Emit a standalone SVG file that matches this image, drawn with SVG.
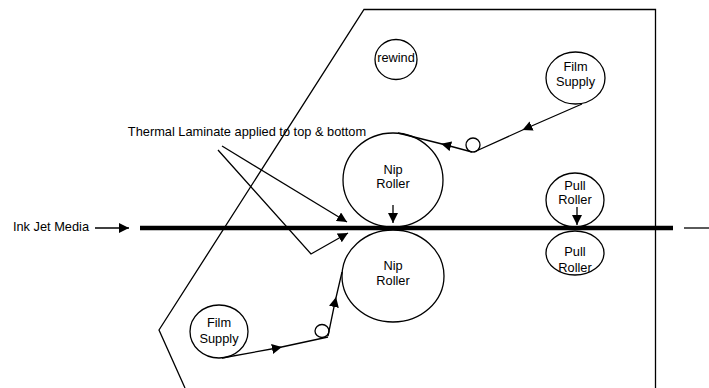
<svg xmlns="http://www.w3.org/2000/svg" width="709" height="388" viewBox="0 0 709 388">
<style>
.ln{fill:none;stroke:#000;stroke-width:1.3}
.nd{fill:none;stroke:#000;stroke-width:1.3}
text{font-family:"Liberation Sans",Arial,sans-serif;font-size:12.8px;fill:#000;text-anchor:middle}
</style>
<defs>
<marker id="ah" viewBox="0 0 10 10" refX="10" refY="5" markerWidth="10" markerHeight="10" markerUnits="userSpaceOnUse" orient="auto">
<path d="M0,0 L10,5 L0,10 z" fill="#000"/>
</marker>
<marker id="am" viewBox="0 0 10 10" refX="5" refY="5" markerWidth="10" markerHeight="10" markerUnits="userSpaceOnUse" orient="auto">
<path d="M0,0 L10,5 L0,10 z" fill="#000"/>
</marker>
</defs>
<g id="housing">
<path class="ln" d="M655.5,388 L655.5,9.5 L364,9.5 L159,330 L185,388"/>
</g>
<g id="nip-top"><ellipse class="nd" cx="393" cy="180" rx="50" ry="47"/><text x="393" y="174">Nip</text><text x="393" y="188">Roller</text></g>
<g id="nip-bottom"><ellipse class="nd" cx="393" cy="276" rx="51" ry="46"/><text x="393" y="270">Nip</text><text x="393" y="285">Roller</text></g>
<g id="rewind"><ellipse class="nd" cx="396" cy="59.5" rx="21" ry="20"/><text x="396" y="62">rewind</text></g>
<g id="film-supply-top"><ellipse class="nd" cx="575.5" cy="78" rx="29.5" ry="26"/><text x="575.5" y="71">Film</text><text x="575.5" y="86">Supply</text></g>
<g id="film-supply-bottom"><ellipse class="nd" cx="219" cy="331.5" rx="29" ry="26.5"/><text x="219" y="327">Film</text><text x="219" y="343">Supply</text></g>
<g id="idler-top"><ellipse class="nd" cx="473" cy="145" rx="7" ry="7"/></g>
<g id="idler-bottom"><ellipse class="nd" cx="322" cy="331" rx="7" ry="6.5"/></g>
<g id="pull-top"><ellipse class="nd" cx="575" cy="200" rx="29" ry="27"/><text x="575" y="190">Pull</text><text x="575" y="204">Roller</text></g>
<g id="pull-bottom"><ellipse class="nd" cx="575" cy="253" rx="29" ry="22"/><text x="575" y="256">Pull</text><text x="575" y="272">Roller</text></g>
<g id="label-media"><text x="51" y="231">Ink Jet Media</text></g>
<g id="label-laminate"><text x="247" y="136">Thermal Laminate applied to top &amp; bottom</text></g>
<g id="connectors">
<line x1="140" y1="228" x2="673" y2="228" stroke="#000" stroke-width="4.5"/>
<line class="ln" x1="684" y1="228" x2="709" y2="228"/>
<line class="ln" x1="95" y1="228" x2="129" y2="228" marker-end="url(#ah)"/>
<line class="ln" x1="393" y1="205" x2="393" y2="223" marker-end="url(#ah)"/>
<line class="ln" x1="577" y1="207" x2="577" y2="225" marker-end="url(#ah)"/>
<line class="ln" x1="222" y1="146" x2="347" y2="222" marker-end="url(#ah)"/>
<polyline class="ln" points="218,150 311,254 348,233" marker-end="url(#ah)"/>
<polyline class="ln" points="582,104 527,128 474,152" marker-mid="url(#am)"/>
<polyline class="ln" points="472,152 446,145 398,133" marker-mid="url(#am)"/>
<polyline class="ln" points="222,358 277,348 328,337" marker-mid="url(#am)"/>
<polyline class="ln" points="328,336 335,302 342,272" marker-mid="url(#am)"/>
</g>
</svg>
